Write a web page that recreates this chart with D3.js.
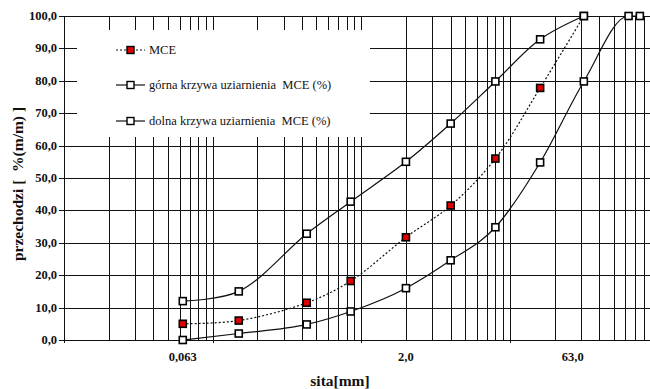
<!DOCTYPE html>
<meta charset="utf-8">
<style>
body { margin: 0; background: #fff; }
svg text { font-family: "Liberation Serif", "Times New Roman", serif; fill: #111; }
.grid line { stroke: #111; stroke-width: 1.3; shape-rendering: crispEdges; }
.tick-lbl { font-size: 12.5px; font-weight: bold; }
.ttl { font-size: 15.5px; font-weight: bold; }
.leg text { font-size: 12.5px; }
</style>
<svg width="650" height="389"></svg>
<script src="https://cdn.jsdelivr.net/npm/d3@7/dist/d3.min.js"></script>
<script>

// sieve sizes [mm]
var sieves = [0.063, 0.15, 0.43, 0.85, 2.0, 4.0, 8.0, 16.0, 31.5, 63.0, 75.0];

// passing % for each series
var mce   = [5, 6, 11.5, 18.2, 31.7, 41.5, 56, 77.8, 100];
var upper = [12, 15, 32.8, 42.7, 55, 66.8, 79.8, 92.8, 100];
var lower = [0, 2, 4.8, 8.8, 16, 24.6, 34.8, 54.8, 79.8, 100, 100];

var yTicks = [0, 10, 20, 30, 40, 50, 60, 70, 80, 90, 100];
var xLabels = ["0,063", "2,0", "63,0"];
var xLabelAt = [0.063, 2.0, 26.5];   // where the labels sit in the source picture

var legendNames = ["MCE", "górna krzywa uziarnienia\u00a0 MCE (%)", "dolna krzywa uziarnienia\u00a0 MCE (%)"];

var svg = d3.select("svg");

var x = d3.scaleLog().domain([0.01, 100]).range([64, 658.4]);
var y = d3.scaleLinear().domain([0, 100]).range([340, 16]);

// vertical log grid
var vlines = [];
[0.01, 0.1, 1, 10].forEach(function(d) {
  for (var k = 1; k <= 9; k++) vlines.push(d * k);
});

var grid = svg.append("g").attr("class", "grid");
grid.selectAll(".v").data(vlines).enter().append("line")
  .attr("x1", function(d) { return Math.round(x(d)) + 0.5; })
  .attr("x2", function(d) { return Math.round(x(d)) + 0.5; })
  .attr("y1", y(100))
  .attr("y2", function(d) { return (Math.abs(Math.log10(d) % 1) < 1e-9) ? y(0) + 3 : y(0); });

grid.selectAll(".h").data(yTicks).enter().append("line")
  .attr("x1", 59).attr("x2", 650)
  .attr("y1", function(d) { return Math.round(y(d)) + 0.5; })
  .attr("y2", function(d) { return Math.round(y(d)) + 0.5; });

// legend background hides grid
svg.append("rect").attr("x", 77).attr("y", 30).attr("width", 293).attr("height", 107).attr("fill", "#fff");

// y tick labels
svg.append("g").selectAll("text").data(yTicks).enter().append("text")
  .attr("class", "tick-lbl")
  .attr("x", 57)
  .attr("y", function(d) { return y(d) + 4; })
  .attr("text-anchor", "end")
  .text(function(d) { return d.toFixed(1).replace(".", ","); });

// x tick labels
svg.append("g").selectAll("text").data(xLabels).enter().append("text")
  .attr("class", "tick-lbl")
  .attr("x", function(d, i) { return x(xLabelAt[i]); })
  .attr("y", 361)
  .attr("text-anchor", "middle")
  .text(function(d) { return d; });

svg.append("text").attr("class", "ttl")
  .attr("x", 340).attr("y", 386).attr("text-anchor", "middle")
  .text("sita[mm]");

svg.append("text").attr("class", "ttl")
  .attr("transform", "translate(23,184) rotate(-90)")
  .attr("text-anchor", "middle")
  .text("przechodzi [\u00a0 %(m/m) ]");

function pairs(vals) {
  return vals.map(function(v, i) { return [sieves[i], v]; });
}

var series = [
  { vals: mce, dash: "2,2", fill: "#e00000", curve: d3.curveCatmullRom.alpha(0.5) },
  { vals: upper, dash: null, fill: "#fff", curve: d3.curveCatmullRom.alpha(0.5) },
  { vals: lower, dash: null, fill: "#fff", curve: d3.curveMonotoneX }
];

series.forEach(function(s) {
  var pts = pairs(s.vals);
  var line = d3.line()
    .x(function(d) { return x(d[0]); })
    .y(function(d) { return y(d[1]); })
    .curve(s.curve);
  svg.append("path")
    .attr("d", line(pts))
    .attr("fill", "none")
    .attr("stroke", "#111")
    .attr("stroke-width", 1.2)
    .attr("stroke-dasharray", s.dash);
  svg.append("g").selectAll("rect").data(pts).enter().append("rect")
    .attr("x", function(d) { return x(d[0]) - 3.5; })
    .attr("y", function(d) { return y(d[1]) - 3.5; })
    .attr("width", 7).attr("height", 7)
    .attr("fill", s.fill)
    .attr("stroke", "#000")
    .attr("stroke-width", 1.6);
});

// legend
var legY = [50, 85, 121];
var leg = svg.append("g").attr("class", "leg");
series.forEach(function(s, i) {
  leg.append("line")
    .attr("x1", 116).attr("x2", 145)
    .attr("y1", legY[i]).attr("y2", legY[i])
    .attr("stroke", "#111").attr("stroke-width", 1.2)
    .attr("stroke-dasharray", s.dash);
  leg.append("rect")
    .attr("x", 127).attr("y", legY[i] - 3.5)
    .attr("width", 7).attr("height", 7)
    .attr("fill", s.fill).attr("stroke", "#000").attr("stroke-width", 1.4);
  leg.append("text")
    .attr("x", 149).attr("y", legY[i] + 4)
    .text(legendNames[i]);
});

</script>
